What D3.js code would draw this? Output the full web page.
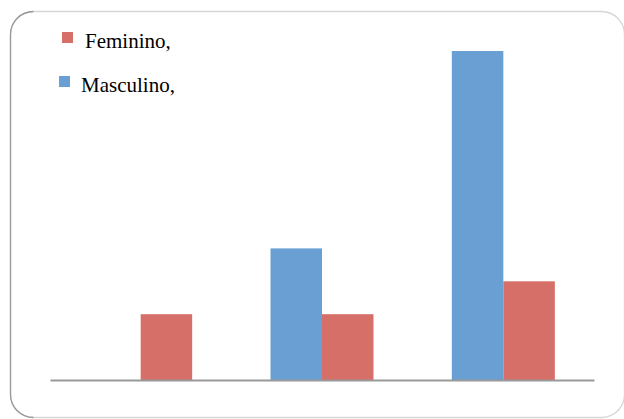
<!DOCTYPE html>
<html>
<head>
<meta charset="utf-8">
<script src="https://cdn.jsdelivr.net/npm/d3@7"></script>
<style>
  html, body { margin: 0; padding: 0; background: #fff; }
  svg { display: block; }
  .legend text { font-family: "Liberation Serif", "Times New Roman", Tinos, "DejaVu Serif", serif; }
</style>
</head>
<body>
<script>
// Three unlabeled groups, two series per group
const categories = ["1", "2", "3"];
const seriesNames = ["Masculino", "Feminino"];
const masculino = [0, 4, 10];
const feminino = [2, 2, 3];
const legendLabels = ["Feminino,", "Masculino,"];

const W = 624, H = 419;
const colors = { Masculino: "#699fd3", Feminino: "#d76f69" };

const svg = d3.select("body").append("svg")
  .attr("width", W).attr("height", H);

// Rounded chart frame: light top/right, darker left/bottom
const fx = 10.5, fy = 11.5, fw = 614, fh = 406, r = 23;
svg.append("rect")
  .attr("x", fx).attr("y", fy).attr("width", fw).attr("height", fh)
  .attr("rx", r).attr("ry", r)
  .attr("fill", "none").attr("stroke", "#d6d6d6").attr("stroke-width", 1.3);
const leftPath = d3.path();
leftPath.moveTo(fx + r, fy);
leftPath.arcTo(fx, fy, fx, fy + r, r);
leftPath.lineTo(fx, fy + fh - r);
leftPath.arcTo(fx, fy + fh, fx + r, fy + fh, r);
svg.append("path").attr("d", leftPath.toString())
  .attr("fill", "none").attr("stroke", "#999").attr("stroke-width", 1.3);

// Scales
const x0 = d3.scaleBand().domain(categories).range([50, 594])
  .paddingInner(0.432).paddingOuter(0.216);
const x1 = d3.scaleBand().domain(seriesNames).range([0, x0.bandwidth()]);
const y = d3.scaleLinear().domain([0, 10]).range([380, 51]);

const rows = categories.map((c, i) => ({
  cat: c,
  values: [
    { key: "Masculino", v: masculino[i] },
    { key: "Feminino", v: feminino[i] }
  ]
}));

const g = svg.append("g");
const groups = g.selectAll("g.grp").data(rows).join("g")
  .attr("class", "grp")
  .attr("transform", d => `translate(${x0(d.cat)},0)`);

groups.selectAll("rect").data(d => d.values.filter(e => e.v > 0)).join("rect")
  .attr("x", d => x1(d.key))
  .attr("y", d => y(d.v))
  .attr("width", x1.bandwidth())
  .attr("height", d => y(0) - y(d.v))
  .attr("fill", d => colors[d.key]);

// Baseline axis
const axis = d3.axisBottom(x0).tickSize(0).tickFormat("");
const ax = svg.append("g").attr("transform", `translate(0,${y(0)})`).call(axis);
ax.select(".domain").attr("stroke", "#999").attr("stroke-width", 2);

// Legend
const legend = svg.append("g").attr("class", "legend")
  .attr("font-size", 21).attr("fill", "#000");
const legendItems = [
  { label: legendLabels[0], color: colors.Feminino, sx: 62, sy: 32, tx: 85, ty: 48 },
  { label: legendLabels[1], color: colors.Masculino, sx: 59, sy: 76, tx: 81, ty: 92 }
];
legendItems.forEach(it => {
  legend.append("rect").attr("x", it.sx).attr("y", it.sy)
    .attr("width", 11).attr("height", 11).attr("fill", it.color);
  legend.append("text").attr("x", it.tx).attr("y", it.ty)
    .attr("fill", "#000").text(it.label);
});
</script>
</body>
</html>
